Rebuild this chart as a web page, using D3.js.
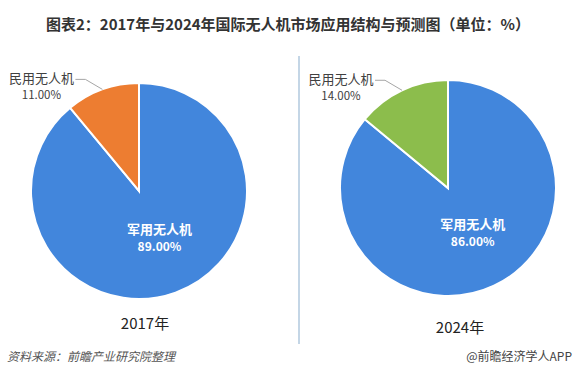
<!DOCTYPE html>
<html>
<head>
<meta charset="utf-8">
<script src="https://cdn.jsdelivr.net/npm/d3@7"></script>
<style>
  html, body { margin: 0; padding: 0; background: #fff; }
  svg { display: block; font-family: "Noto Sans CJK SC", "Noto Sans", sans-serif; }
</style>
</head>
<body>
<div id="chart"></div>
<script>
const years = ["2017年", "2024年"];
const categories = ["军用无人机", "民用无人机"];
const shares2017 = [89, 11];
const shares2024 = [86, 14];
const civilColors = ["#ed7d31", "#8cbd4c"];

const titleText = "图表2：2017年与2024年国际无人机市场应用结构与预测图（单位：%）";
const sourceText = "资料来源：前瞻产业研究院整理";
const brandText = "@前瞻经济学人APP";

class DronePieCharts {
  constructor(containerId) {
    this.containerId = containerId;
    this.width = 577;
    this.height = 378;
    this.radius = 108;
    this.centers = [{ x: 139, y: 191 }, { x: 448, y: 188 }];
    this.yearLabelPos = [{ x: 145, y: 329 }, { x: 460, y: 333 }];
  }

  render() {
    const svg = d3.select(`#${this.containerId}`)
      .append("svg")
      .attr("width", this.width)
      .attr("height", this.height);

    svg.append("text")
      .attr("x", 288)
      .attr("y", 30)
      .attr("text-anchor", "middle")
      .attr("fill", "#333")
      .style("font-size", "15px")
      .style("font-weight", "700")
      .text(titleText);

    // vertical divider between the two pies
    svg.append("line")
      .attr("x1", 299).attr("x2", 299)
      .attr("y1", 56).attr("y2", 344)
      .attr("stroke", "#9dbbd6")
      .attr("stroke-width", 1.2);

    const pie = d3.pie().sort(null).value((d) => d.value);
    const arc = d3.arc().innerRadius(0).outerRadius(this.radius);
    const labelArc = d3.arc().innerRadius(this.radius * 0.45).outerRadius(this.radius * 0.45);

    [shares2017, shares2024].forEach((shares, index) => {
      const center = this.centers[index];
      const data = categories.map((name, i) => ({ name, value: shares[i] }));
      const slices = pie(data);
      const colors = ["#4286dc", civilColors[index]];

      const g = svg.append("g")
        .attr("transform", `translate(${center.x},${center.y})`);

      g.selectAll("path")
        .data(slices)
        .enter()
        .append("path")
        .attr("d", arc)
        .attr("fill", (d, i) => colors[i])
        .attr("stroke", "#fff")
        .attr("stroke-width", 2);

      // inside label for the big slice
      const big = slices[0];
      const [bx, by] = labelArc.centroid(big);
      const inner = g.append("text")
        .attr("text-anchor", "middle")
        .attr("fill", "#fff")
        .style("font-weight", "700");
      inner.append("tspan")
        .attr("x", bx + 4).attr("y", by - 3)
        .style("font-size", "13px")
        .text(big.data.name);
      inner.append("tspan")
        .attr("x", bx + 4).attr("y", by + 14)
        .style("font-size", "12px")
        .text(`${big.data.value.toFixed(2)}%`);

      // outside label with a leader line for the small slice
      const small = slices[1];
      const mid = (small.startAngle + small.endAngle) / 2;
      const ex = Math.sin(mid) * this.radius;
      const ey = -Math.cos(mid) * this.radius;
      const lx = ex - 61;
      const ly = ey - 11;

      g.append("polyline")
        .attr("points", `${lx + 34},${ly + 1} ${lx + 44},${ly + 1} ${ex},${ey}`)
        .attr("fill", "none")
        .attr("stroke", "#a6a6a6")
        .attr("stroke-width", 1);

      const outer = g.append("text")
        .attr("text-anchor", "middle")
        .attr("fill", "#404040");
      outer.append("tspan")
        .attr("x", lx).attr("y", ly + 5)
        .style("font-size", "13px")
        .text(small.data.name);
      outer.append("tspan")
        .attr("x", lx).attr("y", ly + 21)
        .style("font-size", "11.5px")
        .text(`${small.data.value.toFixed(2)}%`);

      svg.append("text")
        .attr("x", this.yearLabelPos[index].x)
        .attr("y", this.yearLabelPos[index].y)
        .attr("text-anchor", "middle")
        .attr("fill", "#222")
        .style("font-size", "15px")
        .text(years[index]);
    });

    svg.append("text")
      .attr("x", 7)
      .attr("y", 361)
      .attr("fill", "#555")
      .style("font-size", "12px")
      .style("font-style", "italic")
      .text(sourceText);

    svg.append("text")
      .attr("x", 572)
      .attr("y", 361)
      .attr("text-anchor", "end")
      .attr("fill", "#444")
      .style("font-size", "12px")
      .text(brandText);
  }
}

new DronePieCharts("chart").render();
</script>
</body>
</html>
